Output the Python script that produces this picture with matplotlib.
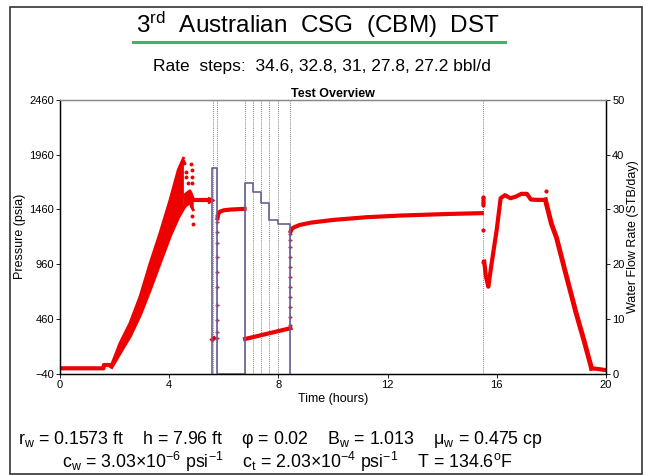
import matplotlib
matplotlib.use("Agg")
import matplotlib.pyplot as plt
from matplotlib.patches import Rectangle
from matplotlib.lines import Line2D

plt.rcParams['font.family'] = ['Liberation Sans', 'DejaVu Sans']
plt.rcParams['mathtext.fontset'] = 'custom'
plt.rcParams['mathtext.rm'] = 'Liberation Sans'
plt.rcParams['mathtext.it'] = 'Liberation Sans'

# ---------------- data ----------------
# pre-test baseline
pre_t = [0.0, 1.59, 1.61, 1.89]
pre_p = [12, 12, 42, 42]

# running-in band (two recorders, noisy)
rise_t = [1.89, 2.2, 2.56, 2.93, 3.3, 3.66, 4.03, 4.33, 4.52]
rise_lo = [27, 158, 308, 503, 738, 980, 1225, 1392, 1474]
rise_hi = [45, 243, 422, 665, 970, 1243, 1547, 1820, 1927]

tail_t = [4.52, 4.6, 4.7, 4.76, 4.82, 4.88]
tail_lo = [1474, 1490, 1510, 1530, 1480, 1456]
tail_hi = [1580, 1600, 1620, 1630, 1600, 1560]

spike_t = [4.45, 4.5, 4.55, 4.6, 4.62, 4.7, 4.8, 4.82, 4.82, 4.83, 4.84, 4.86]
spike_p = [1850, 1900, 1880, 1800, 1760, 1700, 1870, 1820, 1760, 1700, 1400, 1330]

flat1_t = [4.88, 5.5]
flat1_p = [1547, 1547]
arrow_t = [5.52]
arrow_p = [1547]

# first flow
flow1_t = [5.58, 5.64]
flow1_p = [272, 285]

# first build-up (sparse vertical dots then curve)
bu1_dots_t = [5.76] * 11
bu1_dots_p = [288, 346, 452, 589, 756, 893, 1030, 1152, 1258, 1349, 1410]
bu1_t = [5.77, 5.8, 5.86, 6.0, 6.2, 6.5, 6.76]
bu1_p = [1380, 1420, 1440, 1452, 1458, 1462, 1465]

# second (multi-rate) flow
flow2_t = [6.78, 8.44]
flow2_p = [279, 377]

# main build-up
bu2_dots_t = [8.44] * 11
bu2_dots_p = [407, 483, 574, 665, 756, 847, 939, 1030, 1121, 1182, 1240]
bu2_t = [8.45, 8.5, 8.6, 8.79, 9.2, 10.0, 11.23, 12.45, 14.29, 15.45]
bu2_p = [1260, 1285, 1300, 1319, 1340, 1364, 1389, 1404, 1419, 1426]

# pull-out
cl_t = [15.5] * 8
cl_p = [1500, 1515, 1530, 1545, 1560, 1577, 1273, 984]
pull_t = [15.54, 15.6, 15.69, 15.8, 16.0, 16.14, 16.3, 16.5, 16.7, 16.9, 17.1, 17.25, 17.5, 17.78]
pull_p = [984, 850, 756, 950, 1280, 1562, 1590, 1562, 1577, 1602, 1602, 1550, 1547, 1547]
out_t = [17.79]
out_p = [1632]
drop_t = [17.78, 18.0, 18.19, 18.5, 18.9, 19.2, 19.47]
drop_p = [1547, 1330, 1200, 900, 520, 260, 12]
post_t = [19.47, 19.7, 20.0]
post_p = [12, 6, -5]

# water flow rate steps (STB/day)
rate_t = [5.58, 5.58, 5.76, 6.78, 7.07, 7.37, 7.66, 8.0, 8.44]
rate_q = [0, 37.5, 0, 34.8, 33.1, 31.1, 28.0, 27.4, 0]
event_t = [5.60, 5.76, 6.78, 7.07, 7.37, 7.66, 8.0, 8.44, 15.5]

x_ticks = [0, 4, 8, 12, 16, 20]
p_ticks = [-40, 460, 960, 1460, 1960, 2460]
q_ticks = [0, 10, 20, 30, 40, 50]

# ---------------- figure ----------------
fig = plt.figure(figsize=(6.46, 4.75), dpi=100)
fig.patch.set_facecolor('white')

# outer frame
fig.add_artist(Rectangle((10/646, 1-474/475), (642-10)/646, (474-7)/475,
                         transform=fig.transFigure, fill=False, ec='#333333', lw=1.2))

fig.text(318/646, 1-25/475, "3$^{\\mathrm{rd}}$  Australian  CSG  (CBM)  DST",
         ha='center', va='center', fontsize=17.5, color='black')
fig.add_artist(Line2D([133/646, 505/646], [1-42/475, 1-42/475], transform=fig.transFigure,
                      color='#3cb46e', lw=2.2))
fig.text(322/646, 1-67/475, "Rate  steps:  34.6, 32.8, 31, 27.8, 27.2 bbl/d",
         ha='center', va='center', fontsize=12.5)

ax = fig.add_axes([60/646, 1-374/475, (606-60)/646, (374-99.7)/475])
ax2 = ax.twinx()

red = '#ee0000'
ax.plot(pre_t, pre_p, color=red, lw=3, solid_capstyle='butt')
ax.fill_between(rise_t, rise_lo, rise_hi, color=red, lw=0)
ax.plot(rise_t, rise_lo, color=red, lw=3)
ax.plot(rise_t, rise_hi, color=red, lw=2)
ax.fill_between(tail_t, tail_lo, tail_hi, color=red, lw=0)
ax.plot(tail_t, tail_lo, color=red, lw=2)
ax.plot(tail_t, tail_hi, color=red, lw=2)
ax.plot(spike_t, spike_p, ls='none', marker='o', ms=1.8, color=red)
ax.plot(flat1_t, flat1_p, color=red, lw=3)
ax.plot(arrow_t, arrow_p, ls='none', marker='>', ms=4.5, color=red)
ax.plot(flow1_t, flow1_p, color=red, lw=3)
ax.plot(bu1_dots_t, bu1_dots_p, ls='none', marker='+', ms=3.5, mew=1, color='#b3204a')
ax.plot(bu1_t, bu1_p, color=red, lw=3)
ax.plot(flow2_t, flow2_p, color=red, lw=3)
ax.plot(bu2_dots_t, bu2_dots_p, ls='none', marker='+', ms=3.5, mew=1, color='#b3204a')
ax.plot(bu2_t, bu2_p, color=red, lw=3)
ax.plot(cl_t, cl_p, ls='none', marker='o', ms=2, color=red)
ax.plot(pull_t, pull_p, color=red, lw=3)
ax.plot(out_t, out_p, ls='none', marker='o', ms=2, color=red)
ax.plot(drop_t, drop_p, color=red, lw=3.5)
ax.plot(post_t, post_p, color=red, lw=3)

for t in event_t:
    ax.axvline(t, color='#555555', lw=0.6, ls=(0, (1, 1.5)), zorder=0)

ax2.plot([rate_t[0]] + rate_t, [0] + rate_q, drawstyle='steps-post', color='#6a5f92', lw=1.2)

ax.set_xlim(0, 20)
ax.set_ylim(-40, 2460)
ax2.set_ylim(0, 50)
ax.set_xticks(x_ticks)
ax.set_yticks(p_ticks)
ax2.set_yticks(q_ticks)

for a in (ax, ax2):
    a.tick_params(labelsize=8, length=3, width=0.6, pad=1.5)
    for s in a.spines.values():
        s.set_linewidth(0.9)
ax.spines['top'].set_color('#888888')
ax2.spines['top'].set_color('#888888')

ax.set_xlabel("Time (hours)", fontsize=9, labelpad=2)
ax.set_ylabel("Pressure (psia)", fontsize=9, labelpad=2)
ax2.set_ylabel("Water Flow Rate (STB/day)", fontsize=9, labelpad=2)
ax.set_title("Test Overview", fontsize=9, fontweight='bold', pad=2)

fig.text(18/646, 1-440/475,
         "r$_{\\mathrm{w}}$ = 0.1573 ft    h = 7.96 ft    φ = 0.02    B$_{\\mathrm{w}}$ = 1.013    μ$_{\\mathrm{w}}$ = 0.475 cp",
         ha='left', va='center', fontsize=12.8)
fig.text(62/646, 1-462/475,
         "c$_{\\mathrm{w}}$ = 3.03×10$^{\\mathrm{-6}}$ psi$^{\\mathrm{-1}}$    c$_{\\mathrm{t}}$ = 2.03×10$^{\\mathrm{-4}}$ psi$^{\\mathrm{-1}}$    T = 134.6$^{\\mathrm{o}}$F",
         ha='left', va='center', fontsize=12.8)

fig.savefig("out.png", dpi=100, facecolor='white')
